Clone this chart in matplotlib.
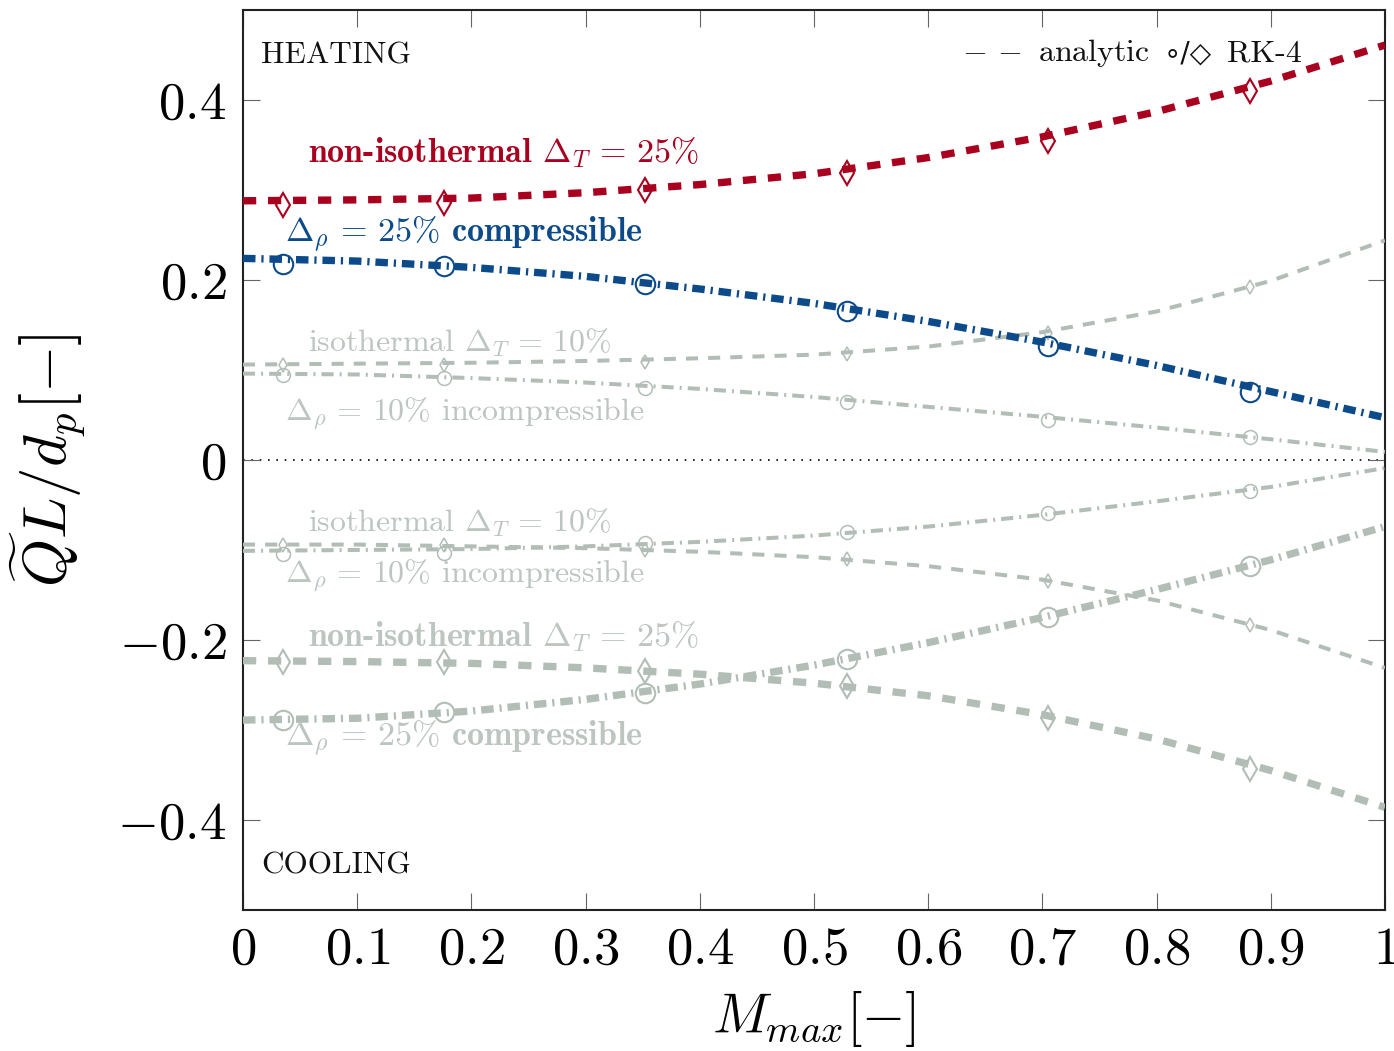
import matplotlib
matplotlib.use("Agg")
import matplotlib.pyplot as plt

plt.rcParams['mathtext.fontset'] = 'cm'
plt.rcParams['font.family'] = ['cmr10', 'DejaVu Sans']
plt.rcParams['axes.formatter.use_mathtext'] = True

# analytic curves
x_line = [0.0, 0.1, 0.2, 0.3, 0.4, 0.5, 0.6, 0.7, 0.8, 0.9, 1.0]
heat_noniso = [0.288, 0.289, 0.291, 0.297, 0.306, 0.318, 0.336, 0.359, 0.387, 0.421, 0.461]
heat_comp = [0.224, 0.221, 0.214, 0.204, 0.190, 0.174, 0.154, 0.131, 0.105, 0.076, 0.047]
heat_iso = [0.106, 0.107, 0.108, 0.110, 0.113, 0.117, 0.126, 0.142, 0.165, 0.199, 0.244]
heat_incomp = [0.096, 0.095, 0.091, 0.086, 0.079, 0.070, 0.059, 0.048, 0.036, 0.023, 0.009]
cool_iso = [-0.094, -0.094, -0.096, -0.098, -0.102, -0.108, -0.118, -0.133, -0.156, -0.189, -0.231]
cool_incomp = [-0.101, -0.100, -0.099, -0.096, -0.091, -0.084, -0.074, -0.061, -0.046, -0.030, -0.009]
cool_noniso = [-0.223, -0.224, -0.226, -0.231, -0.238, -0.248, -0.262, -0.283, -0.310, -0.345, -0.386]
cool_comp = [-0.289, -0.287, -0.279, -0.266, -0.249, -0.228, -0.203, -0.175, -0.144, -0.111, -0.074]

# RK-4 points
x_rk = [0.035, 0.176, 0.352, 0.529, 0.705, 0.882]
rk_heat_noniso = [0.283, 0.286, 0.300, 0.319, 0.354, 0.410]
rk_heat_comp = [0.218, 0.216, 0.195, 0.166, 0.127, 0.076]
rk_heat_iso = [0.106, 0.106, 0.109, 0.118, 0.141, 0.192]
rk_heat_incomp = [0.094, 0.091, 0.080, 0.064, 0.044, 0.026]
rk_cool_iso = [-0.094, -0.094, -0.100, -0.110, -0.134, -0.183]
rk_cool_incomp = [-0.105, -0.103, -0.092, -0.080, -0.059, -0.034]
rk_cool_noniso = [-0.224, -0.224, -0.235, -0.251, -0.287, -0.343]
rk_cool_comp = [-0.289, -0.280, -0.259, -0.221, -0.174, -0.118]

x_ticks = [0, 0.1, 0.2, 0.3, 0.4, 0.5, 0.6, 0.7, 0.8, 0.9, 1]
x_ticklabels = ['0', '0.1', '0.2', '0.3', '0.4', '0.5', '0.6', '0.7', '0.8', '0.9', '1']
y_ticks = [-0.4, -0.2, 0, 0.2, 0.4]
y_ticklabels = ['-0.4', '-0.2', '0', '0.2', '0.4']

RED = '#a8001e'
BLUE = '#0c4a8a'
GRAY = '#b2beb5'
GRAY_TXT = '#bcc5bf'

thick_dash = (0, (1.8, 1.6))
thick_dashdot = (0, (1.7, 0.8, 0.3, 0.8))
thin_dash = (0, (3.0, 2.5))
thin_dashdot = (0, (3.0, 1.5, 0.5, 1.5))

fig = plt.figure(figsize=(13.94, 10.51), dpi=100)
ax = fig.add_axes([0.1743, 0.1342, 0.8192, 0.8563])

def curve(y, rk, color, ls, lw, marker, ms, mew):
    ax.plot(x_rk, rk, linestyle='none', marker=marker, ms=ms, mfc='none',
            mec=color, mew=mew, zorder=2)
    ax.plot(x_line, y, color=color, linestyle=ls, lw=lw, zorder=3)

# cooling (gray)
curve(cool_iso, rk_cool_iso, GRAY, thin_dash, 2.9, 'd', 7.5, 1.1)
curve(cool_incomp, rk_cool_incomp, GRAY, thin_dashdot, 2.9, 'o', 10, 1.1)
curve(cool_noniso, rk_cool_noniso, GRAY, thick_dash, 5.3, 'd', 12.5, 1.5)
curve(cool_comp, rk_cool_comp, GRAY, thick_dashdot, 5.3, 'o', 14, 1.5)
# heating
curve(heat_iso, rk_heat_iso, GRAY, thin_dash, 2.9, 'd', 7.5, 1.1)
curve(heat_incomp, rk_heat_incomp, GRAY, thin_dashdot, 2.9, 'o', 10, 1.1)
curve(heat_comp, rk_heat_comp, BLUE, thick_dashdot, 5.3, 'o', 14, 1.5)
curve(heat_noniso, rk_heat_noniso, RED, thick_dash, 5.3, 'd', 12.5, 1.5)

ax.axhline(0, color='black', lw=1.2, linestyle=(0, (1, 4)), zorder=1)

fs = 23
fsb = 24.5
ax.text(0.057, 0.331, r'non-isothermal $\Delta_T\,=\,25\%$', color=RED,
        family='cmb10', fontsize=fsb)
ax.text(0.037, 0.243, r'$\Delta_\rho\,=\,25\%$ compressible', color=BLUE,
        family='cmb10', fontsize=fsb)
ax.text(0.057, 0.121, r'isothermal $\Delta_T\,=\,10\%$', color=GRAY_TXT, fontsize=fs)
ax.text(0.037, 0.044, r'$\Delta_\rho\,=\,10\%$ incompressible', color=GRAY_TXT, fontsize=fs)
ax.text(0.057, -0.079, r'isothermal $\Delta_T\,=\,10\%$', color=GRAY_TXT, fontsize=fs)
ax.text(0.037, -0.136, r'$\Delta_\rho\,=\,10\%$ incompressible', color=GRAY_TXT, fontsize=fs)
ax.text(0.057, -0.207, r'non-isothermal $\Delta_T\,=\,25\%$', color=GRAY_TXT,
        family='cmb10', fontsize=fsb)
ax.text(0.037, -0.317, r'$\Delta_\rho\,=\,25\%$ compressible', color=GRAY_TXT,
        family='cmb10', fontsize=fsb)

ax.text(0.016, 0.441, 'HEATING', fontsize=22.5, color='#111111')
ax.text(0.016, -0.459, 'COOLING', fontsize=22.5, color='#111111')
# legend line
ax.text(0.63, 0.443, r'$-\,-$ analytic', fontsize=fs, color='#111111')
ax.text(0.806, 0.443, '\u2218/\u25c7', fontsize=20, color='#111111',
        family='DejaVu Sans')
ax.text(0.862, 0.443, 'RK-4', fontsize=fs, color='#111111')

ax.set_xlim(0, 1)
ax.set_ylim(-0.5, 0.5)
ax.set_xticks(x_ticks)
ax.set_xticklabels(['$%s$' % t for t in x_ticklabels])
ax.set_yticks(y_ticks)
ax.set_yticklabels(['$%s$' % t for t in y_ticklabels])
ax.tick_params(direction='in', length=12, width=0.8, color='#666666',
               top=True, right=True, labelsize=38, pad=12)
for s in ax.spines.values():
    s.set_linewidth(1.5)
    s.set_color('#222222')

ax.set_xlabel(r'$M_{max}[-]$', fontsize=40, labelpad=11)
ax.set_ylabel(r'$\widetilde{Q}L/d_p[-]$', fontsize=44, labelpad=22)

fig.savefig('out.png', dpi=100)
